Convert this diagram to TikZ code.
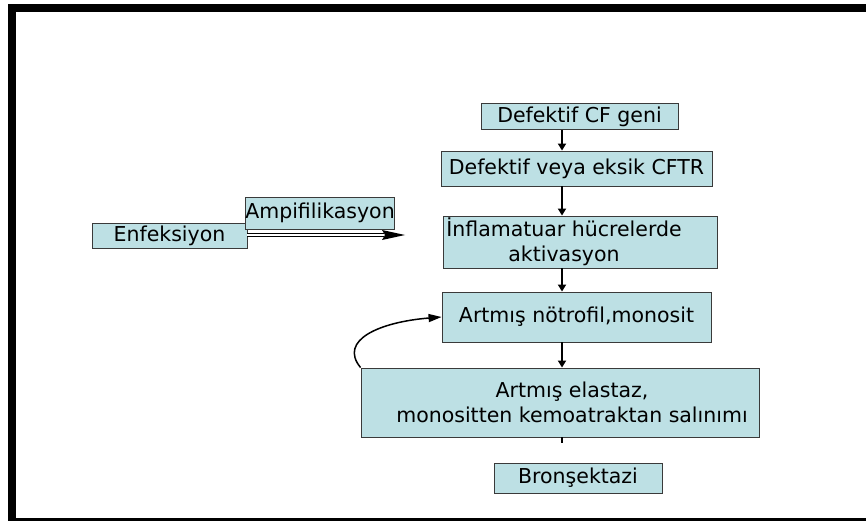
\documentclass[tikz,border=0pt]{standalone}
\usepackage{fontspec}
\setmainfont{DejaVu Sans}
\usetikzlibrary{arrows.meta,calc}
\definecolor{boxfill}{HTML}{BDE0E4}
\definecolor{boxline}{HTML}{3A3A3A}
\tikzset{
  box/.style={draw=boxline, fill=boxfill, line width=0.9pt, inner sep=0pt, align=center,
    font=\fontsize{20.5}{25}\selectfont},
  flow/.style={line width=1.8pt, -{Triangle[length=7pt,width=8pt]}},
}
\begin{document}
\begin{tikzpicture}[x=1pt,y=-1pt]
\useasboundingbox (0,0) rectangle (866,521);
% frame
\fill[black] (8,4) rectangle (866,12);
\fill[black] (8,4) rectangle (16,521);
\fill[black] (8,518) rectangle (866,521);
% boxes
\node[box, minimum width=197pt, minimum height=26pt] (geni) at (579.5,116.5) {Defektif CF geni};
\node[box, minimum width=271pt, minimum height=35pt] (cftr) at (576.5,168.5) {Defektif veya eksik CFTR};
\node[box, minimum width=274pt, minimum height=52pt] (infl) at (580,242)
  {İnflamatuar hücrelerde\hspace*{32pt}\\aktivasyon\hspace*{32pt}};
\node[box, minimum width=269pt, minimum height=50pt] (notro) at (576.5,317) {Artmış nötrofil,monosit};
\node[box, minimum width=398pt, minimum height=69pt, font=\fontsize{20.5}{24.5}\selectfont] (elastaz) at (560,402.5)
  {\hspace*{24pt}Artmış elastaz,\\\hspace*{24pt}monositten kemoatraktan salınımı};
\node[box, minimum width=168pt, minimum height=30pt] (bron) at (578,478) {Bronşektazi};
\node[box, minimum width=155pt, minimum height=25pt] (enf) at (169.5,235.5) {Enfeksiyon};
\node[box, minimum width=148pt, minimum height=32pt] (amp) at (320,213) {Ampifilikasyon};
% connectors
\draw[flow] (geni.south -| 562,0) -- (cftr.north -| 562,0);
\draw[flow] (cftr.south -| 562,0) -- (infl.north -| 562,0);
\draw[flow] (infl.south -| 562,0) -- (notro.north -| 562,0);
\draw[flow] (notro.south -| 562,0) -- (elastaz.north -| 562,0);
\coordinate (stub) at (562,443);
\draw[line width=1.8pt] (elastaz.south -| 562,0) -- (stub);
\coordinate (ampend) at (384,235);
\coordinate (amptip) at (405,235);
\draw[line width=0.9pt, double=white, double distance=2.6pt] (enf.east |- 0,235) -- (ampend);
\fill[black] (amptip) -- ++(-23,-5) -- ++(3,5) -- ++(-3,5) -- cycle;
\draw[line width=1.5pt, -{Triangle[length=13pt,width=8pt]}] (elastaz.north west) .. controls (338,340) and (380,322) .. (notro.west);
\end{tikzpicture}
\end{document}
